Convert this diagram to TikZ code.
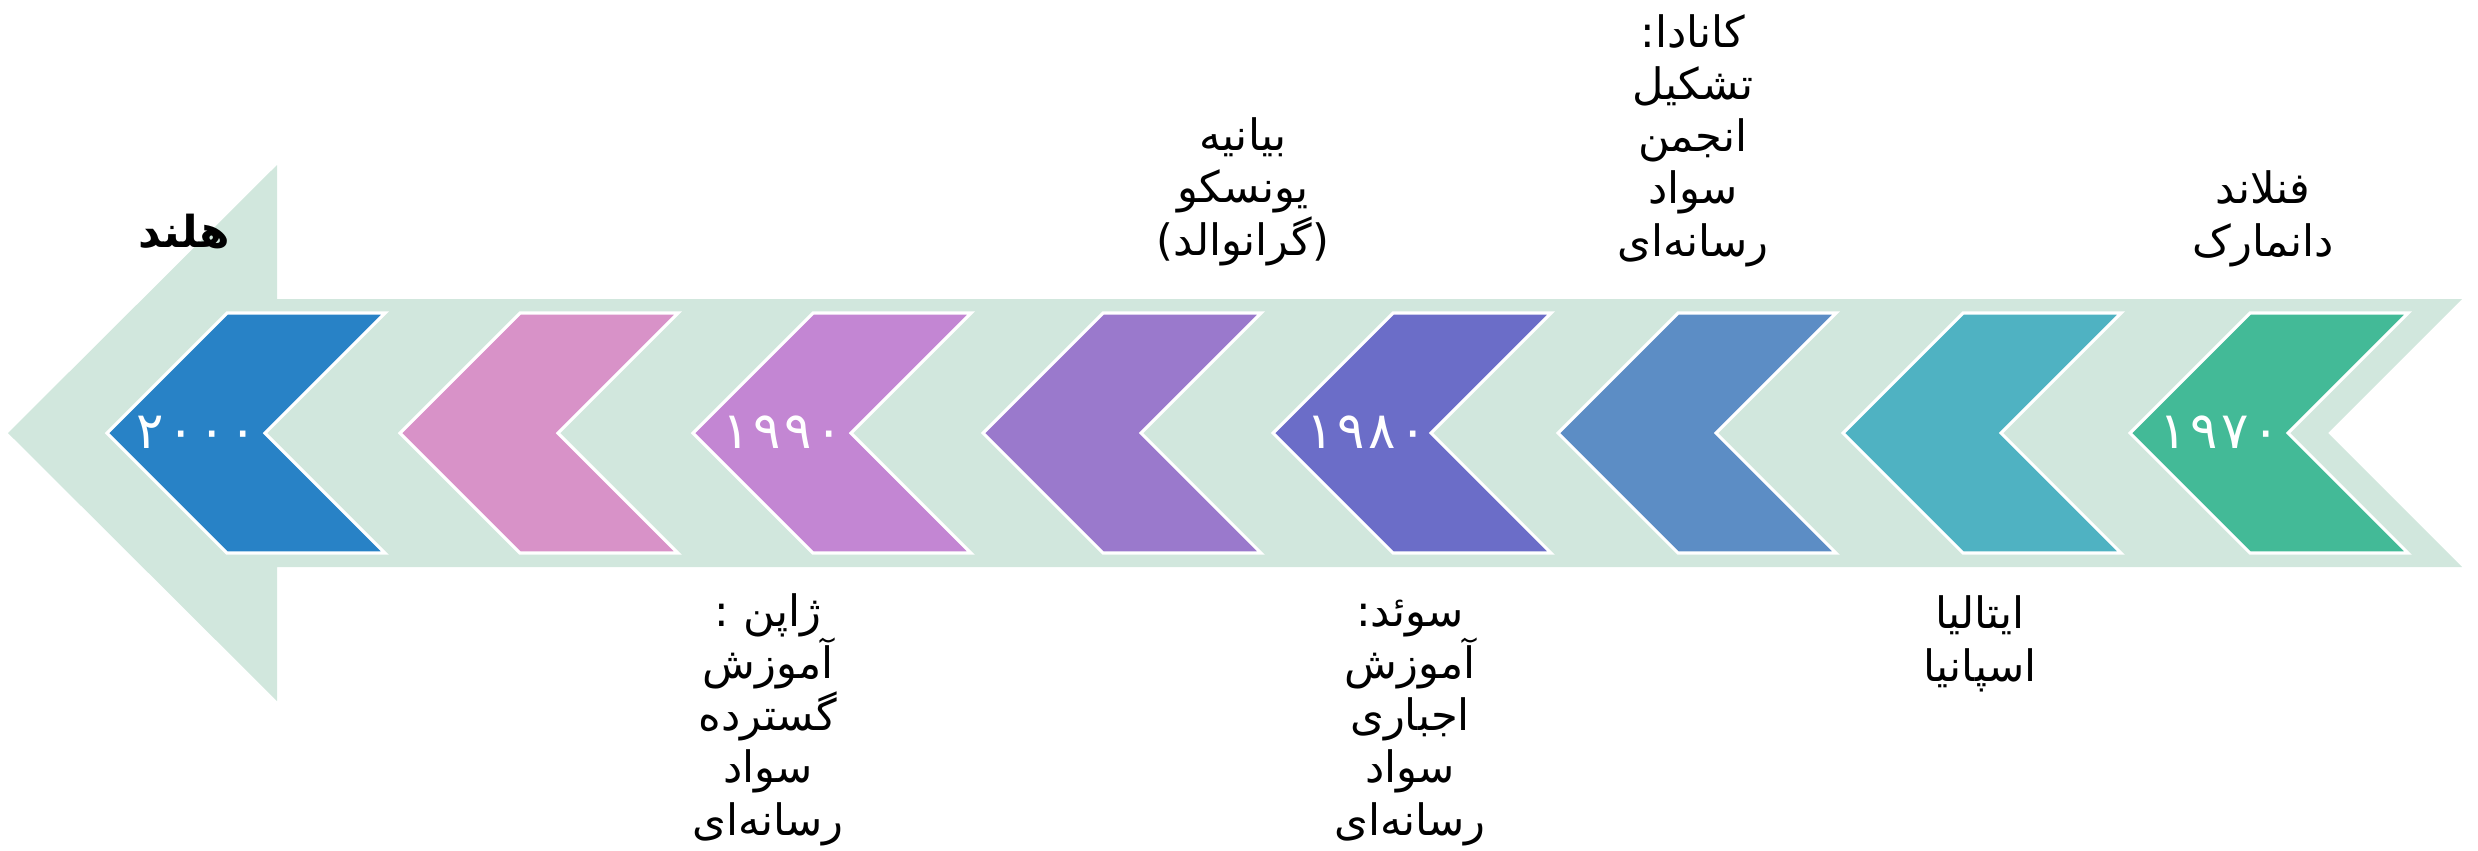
\documentclass[tikz,border=0pt]{standalone}
\usepackage{fontspec}
\newfontfamily\arabicfont[Script=Arabic]{DejaVu Sans}
\TeXXeTstate=1
\definecolor{bgarrow}{HTML}{D1E7DD}
\definecolor{cA}{HTML}{2882C6}
\definecolor{cB}{HTML}{D892C8}
\definecolor{cC}{HTML}{C386D3}
\definecolor{cD}{HTML}{9A79CC}
\definecolor{cE}{HTML}{6B6DC8}
\definecolor{cF}{HTML}{5C8DC5}
\definecolor{cG}{HTML}{4FB2C2}
\definecolor{cH}{HTML}{43BA97}
\newcommand{\fa}[1]{\beginR #1\endR}
\newcommand{\yk}{\kern1pt}
\begin{document}
\begin{tikzpicture}[x=0.01cm,y=-0.01cm,
  lbl/.style={font=\arabicfont\fontsize{12.3pt}{14.8pt}\selectfont, align=center, text=black, inner sep=0pt, anchor=base},
  yr/.style={font=\arabicfont\fontsize{14.5pt}{16pt}\selectfont, text=white, inner sep=0pt},
  chev/.style={draw=white, line width=0.9pt, line join=miter}]
\useasboundingbox (0,0) rectangle (2478,850);
% background arrow
\fill[bgarrow] (8,433) -- (277,165) -- (277,299) -- (2462,299) -- (2328,433)
   -- (2462,567) -- (277,567) -- (277,701) -- cycle;
% chevrons
\foreach \x/\c in {107/cA,400/cB,693/cC,983/cD,1273/cE,1558/cF,1843/cG,2130/cH}
  \filldraw[chev, fill=\c] (\x,433) -- ++(120,-120) -- ++(158,0) -- ++(-120,120)
     -- ++(120,120) -- ++(-158,0) -- cycle;
% years
\node[yr] (y2000) at (197,432) {۲\yk۰\yk۰\yk۰};
\node[yr] (y1990) at (783,432) {۱\yk۹\yk۹\yk۰};
\node[yr] (y1980) at (1367,432) {۱\yk۹\yk۸\yk۰};
\node[yr] (y1970) at (2220,432) {۱\yk۹\yk۷\yk۰};
% top labels (base = last line)
\node[lbl, font=\arabicfont\bfseries\fontsize{12.5pt}{14.8pt}\selectfont] (hol) at (184,247) {\fa{هلند}};
\node[lbl] (unesco) at (1243,255) {\fa{بیانیه}\\\fa{یونسکو}\\\fa{(گرانوالد)}};
\node[lbl] (canada) at (1693,256) {\fa{کانادا:}\\\fa{تشکیل}\\\fa{انجمن}\\\fa{سواد}\\\fa{رسانه‌ای}};
\node[lbl] (fin) at (2263,256) {\fa{فنلاند}\\\fa{دانمارک}};
% bottom labels
\node[lbl] (japan) at (768,835) {\fa{ژاپن :}\\\fa{آموزش}\\\fa{گسترده}\\\fa{سواد}\\\fa{رسانه‌ای}};
\node[lbl] (sweden) at (1410,835) {\fa{سوئد:}\\\fa{آموزش}\\\fa{اجباری}\\\fa{سواد}\\\fa{رسانه‌ای}};
\node[lbl] (italy) at (1980,681) {\fa{ایتالیا}\\\fa{اسپانیا}};
\end{tikzpicture}
\end{document}
